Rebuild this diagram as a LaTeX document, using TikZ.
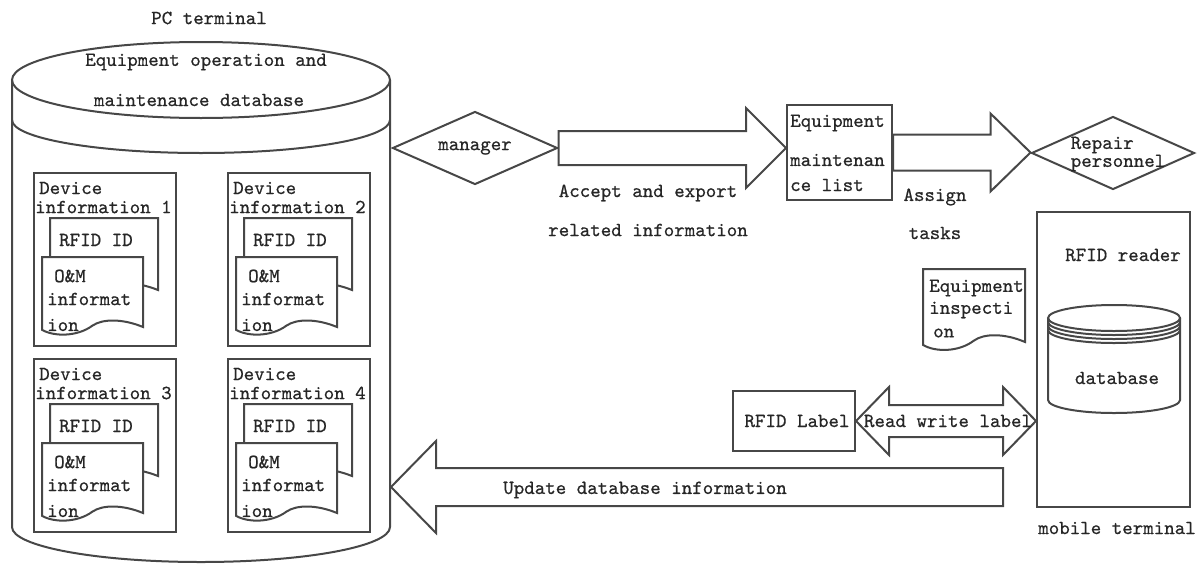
\documentclass[tikz,border=0pt]{standalone}
\usepackage{fontspec}
\newfontfamily\labelfont{lmmono10-regular.otf}[FakeBold=0.6]
\usetikzlibrary{shapes.geometric,calc}

\tikzset{
  grayline/.style={draw=black!72, line width=2pt},
  txt/.style={inner sep=1pt},
  devbox/.style={grayline, rectangle, minimum width=142, minimum height=173, inner sep=0pt},
  choice/.style={grayline, diamond, aspect=2.25, inner sep=0pt},
}

% paper sheet with a wavy lower edge
\newcommand{\docshape}[4]{%
  \draw[grayline, fill=white, shift={(#1,#2)}, xscale=#3, yscale=#4]
    (0,0) -- (1,0) -- (1,1) .. controls (0.8,0.88) and (0.6,0.88) .. (0.5,0.98)
    .. controls (0.35,1.14) and (0.12,1.14) .. (0,1.04) -- cycle;}

% hollow block arrow: tail, target, half shaft, head length, half head
\newcommand{\fatarrow}[5]{%
  \draw[grayline, fill=white]
    ($(#1)+(0,-#3)$) -- ($(#1 -| #2)+({-1*(#4)},-#3)$)
    -- ($(#1 -| #2)+({-1*(#4)},-#5)$) -- (#1 -| #2)
    -- ($(#1 -| #2)+({-1*(#4)},#5)$) -- ($(#1 -| #2)+({-1*(#4)},#3)$)
    -- ($(#1)+(0,#3)$) -- cycle;}

\begin{document}
\begin{tikzpicture}[x=1pt, y=-1pt, font=\fontsize{20}{22}\selectfont\labelfont, text=black!85]
  \useasboundingbox (0,0) rectangle (1198,565);

  % PC side database
  \node[txt] (pctitle) at (209,18) {PC terminal};
  \draw[grayline] (12,80) -- (12,527) arc[start angle=180, end angle=0, x radius=189, y radius=35] -- (390,80);
  \draw[grayline] (201,80) ellipse [x radius=189, y radius=38];
  \draw[grayline] (12,120) arc[start angle=180, end angle=0, x radius=189, y radius=33];
  \node[txt] (dbtop) at (206,62) {Equipment operation and};
  \node[txt] (dbbot) at (199,100) {maintenance database};
  \coordinate (pcedge) at (391,486);

  % device records
  \foreach \i/\dx/\dy in {1/0/0, 2/194/0, 3/0/186, 4/194/186} {
    \begin{scope}[shift={(\dx,\dy)}]
      \node[devbox, anchor=north west] (dev\i) at (33,172) {};
      \node[txt, anchor=west] (devname\i) at (38,188) {Device};
      \node[txt, anchor=west] (devinfo\i) at (34,207) {information \i};
      \docshape{50}{218}{108}{72}
      \node[txt, anchor=west] (rfid\i) at (58,240) {RFID ID};
      \docshape{42}{257}{101}{70}
      \node[txt, anchor=west] (oma\i) at (53,276) {O\&M};
      \node[txt, anchor=west] (omb\i) at (46,299) {informat};
      \node[txt, anchor=west] (omc\i) at (46,325) {ion};
    \end{scope}
  }

  % upper flow
  \node[choice, minimum width=165, minimum height=73] (mgr) at (475,148) {manager};
  \node[grayline, rectangle, minimum width=105, minimum height=95] (mlist) at (839.5,152.5) {};
  \node[txt, anchor=west] (mlista) at (789,123) {Equipment};
  \node[txt, anchor=west] (mlistb) at (789,160) {maintenan};
  \node[txt, anchor=west] (mlistc) at (789,185) {ce list};
  \node[choice, minimum width=163, minimum height=73] (repair) at (1113,153) {};
  \node[txt, align=left] (repairtxt) at (1118,154) {Repair\\[-4pt]personnel};

  \fatarrow{mgr.east}{mlist.west}{17}{40}{40}
  \fatarrow{mlist.east}{repair.west}{18}{40}{39}
  \node[txt] (accept) at (648,193) {Accept and export};
  \node[txt] (related) at (648,230) {related information};
  \node[txt] (assign) at (935,197) {Assign};
  \node[txt] (tasks) at (935,233) {tasks};

  % mobile side
  \node[grayline, rectangle, minimum width=153, minimum height=295] (mobile) at (1113.5,359.5) {};
  \node[txt] (reader) at (1123,255) {RFID reader};
  \node[txt] (mobtitle) at (1117,528) {mobile terminal};
  \draw[grayline, fill=white] (1048,318) -- (1048,400) arc[start angle=180, end angle=0, x radius=66, y radius=13] -- (1180,318);
  \draw[grayline] (1114,318) ellipse [x radius=66, y radius=13];
  \foreach \d in {4,8,12}
    \draw[grayline] (1048,318+\d) arc[start angle=180, end angle=0, x radius=66, y radius=13];
  \node[txt] (mobdb) at (1117,378) {database};

  \docshape{923}{269}{102}{73}
  \node[txt, anchor=west] (inspa) at (928,288) {Equipment};
  \node[txt, anchor=west] (inspb) at (928,310) {inspecti};
  \node[txt, anchor=west] (inspc) at (932,333) {on};

  \node[grayline, rectangle, minimum width=122, minimum height=60] (rlabel) at (794,421) {};
  \draw[grayline, fill=white] (rlabel.east) -- ++(33,-34) -- ++(0,18)
    -- ($(rlabel.east -| mobile.west)+(-33,-16)$) -- ++(0,-18) -- (rlabel.east -| mobile.west)
    -- ++(-33,34) -- ++(0,-18) -- ($(rlabel.east)+(33,16)$) -- ++(0,18) -- cycle;
  \node[txt] (rlabeltxt) at (797,421) {RFID Label};
  \node[txt] (rw) at (948,421) {Read write label};

  % write back to the PC database
  \coordinate (updtail) at (1003,487);
  \fatarrow{updtail}{pcedge}{19}{-45}{46}
  \node[txt] (update) at (645,490) {Update database information};
\end{tikzpicture}
\end{document}
